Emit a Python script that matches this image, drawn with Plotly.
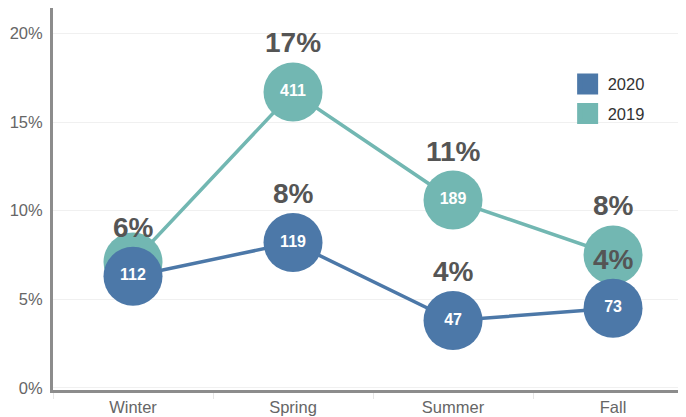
import plotly.graph_objects as go

seasons = ["Winter", "Spring", "Summer", "Fall"]
pct_2020 = [6.3, 8.2, 3.8, 4.5]
pct_2019 = [7.1, 16.7, 10.6, 7.5]
count_2020 = ["112", "119", "47", "73"]
count_2019 = ["", "411", "189", ""]
label_2020 = ["6%", "8%", "4%", "4%"]
label_2019 = ["", "17%", "11%", "8%"]
y_ticks = [0, 5, 10, 15, 20]

BLUE = "#4c78a8"
TEAL = "#72b7b2"
FONT = "Liberation Sans, Arial, sans-serif"

fig = go.Figure()

for name, pct, cnt, color in [("2019", pct_2019, count_2019, TEAL),
                              ("2020", pct_2020, count_2020, BLUE)]:
    fig.add_trace(go.Scatter(
        x=seasons, y=pct, mode="lines+markers+text", name=name,
        text=cnt, textposition="middle center",
        textfont=dict(family=FONT, size=16, color="white", weight="bold"),
        line=dict(color=color, width=3.5),
        marker=dict(color=color, size=59, line=dict(width=0)),
        showlegend=False, hoverinfo="skip",
    ))

# legend entries (2020 first)
for i, (name, color) in enumerate([("2020", BLUE), ("2019", TEAL)]):
    fig.add_trace(go.Scatter(
        x=[None], y=[None], mode="markers", name=name, legendgroup=name,
        legendrank=i,
        marker=dict(symbol="square", size=16, color=color,
                    line=dict(color=color, width=5)),
    ))

for pct, labels in [(pct_2019, label_2019), (pct_2020, label_2020)]:
    for s, v, t in zip(seasons, pct, labels):
        if t:
            fig.add_annotation(x=s, y=v, text=t, showarrow=False, yshift=49,
                               font=dict(family=FONT, size=28, color="#555555", weight="bold"))

fig.update_layout(
    width=678, height=409,
    margin=dict(l=45, r=0, t=0, b=27),
    paper_bgcolor="white", plot_bgcolor="white",
    font=dict(family=FONT, size=16.5, color="#666666"),
    showlegend=True,
    legend=dict(x=0.813, y=0.846, xanchor="left", yanchor="top",
                traceorder="grouped", tracegroupgap=5,
                font=dict(family=FONT, size=16.5, color="#333333"),
                bgcolor="rgba(0,0,0,0)", itemwidth=30),
    xaxis=dict(range=[-0.5, 3.456], showgrid=False, zeroline=False,
               automargin=False,
               showline=True, linecolor="#8c8c8c", linewidth=3,
               ticks="outside", tickson="boundaries", ticklen=6,
               tickcolor="#e6e6e6", tickwidth=1,
               tickfont=dict(family=FONT, size=16.5, color="#666666")),
    yaxis=dict(range=[-0.12, 21.44], tickvals=y_ticks,
               automargin=False,
               ticktext=[f"{v}%" for v in y_ticks],
               showgrid=True, gridcolor="#f0f0f0", gridwidth=1, zeroline=False,
               showline=True, linecolor="#8c8c8c", linewidth=3,
               ticks="", ticklabelstandoff=4,
               tickfont=dict(family=FONT, size=16.5, color="#666666")),
)

fig.write_html("out.html")
